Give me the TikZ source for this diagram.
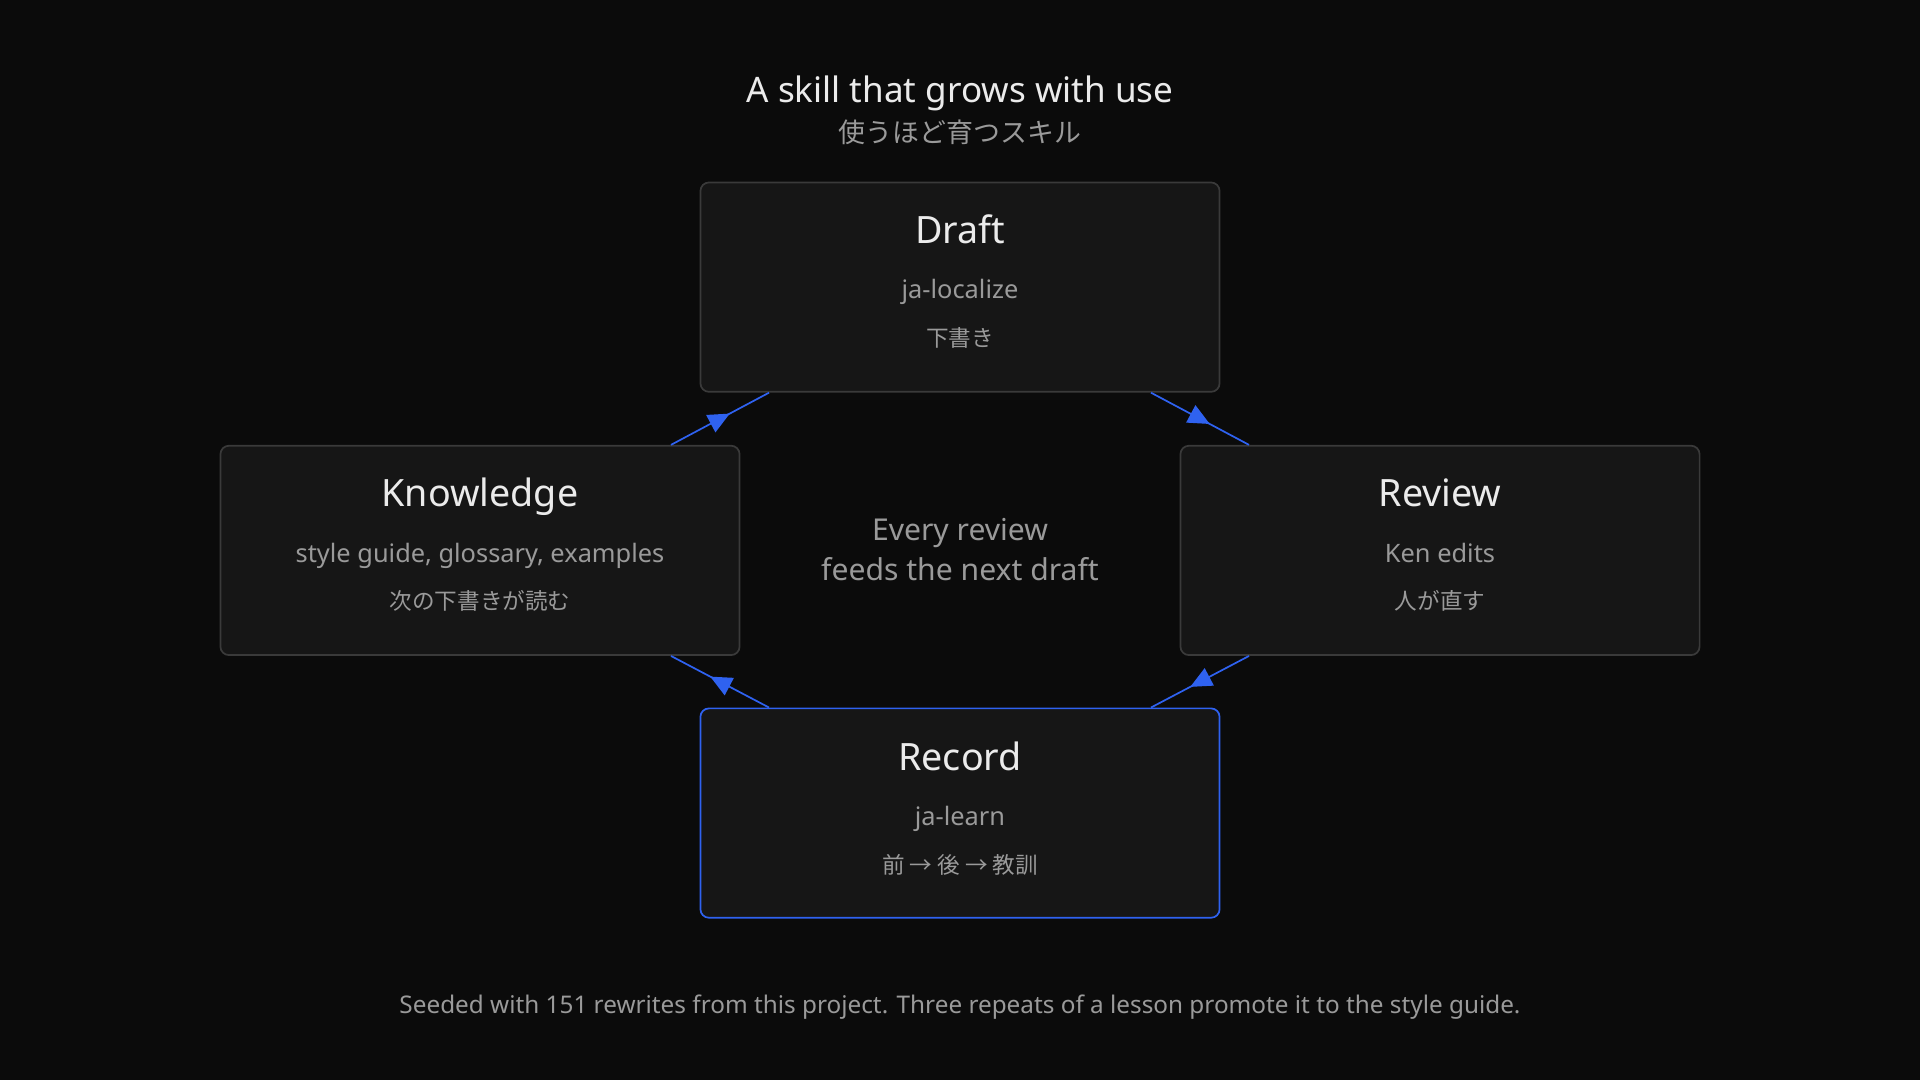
\documentclass[tikz,border=0pt]{standalone}
\usepackage{fontspec}
\setmainfont{Noto Sans}
\newfontfamily\cjk{Noto Sans CJK JP}
\usetikzlibrary{arrows.meta,decorations.markings}
\definecolor{bgc}{HTML}{0B0B0B}
\definecolor{boxc}{HTML}{161616}
\definecolor{edgec}{HTML}{3A3A3A}
\definecolor{bluec}{HTML}{2F62F0}
\definecolor{dimc}{HTML}{9A9A9A}
\begin{document}
\begin{tikzpicture}[x=0.02cm, y=-0.02cm,
    stage/.style={draw=edgec, fill=boxc, rounded corners=4pt, line width=0.8pt,
        minimum width=424*0.02cm, minimum height=171*0.02cm, inner sep=0pt},
    ttl/.style={anchor=base, text=white!92!black, font=\fontsize{17.5}{20}\selectfont},
    sub/.style={anchor=base, text=dimc, font=\fontsize{11.8}{14}\selectfont},
    jp/.style={anchor=base, text=dimc, font=\cjk\fontsize{10.5}{12}\selectfont},
    flow/.style={bluec, line width=0.8pt, postaction={decorate},
        decoration={markings, mark=at position 0.6 with {\arrow{Triangle[length=10pt,width=9pt]}}}}]
    % Canvas
    \fill[bgc] (0,0) rectangle (1568,882);
    \useasboundingbox (0,0) rectangle (1568,882);

    % Heading
    \node[ttl, font=\fontsize{16.3}{18}\selectfont] (head) at (784,84) {A skill that grows with use};
    \node[jp, font=\cjk\fontsize{12.5}{14}\selectfont] (headjp) at (784,116) {使うほど育つスキル};

    % Stages
    \node[stage] (draft) at (784,234.5) {};
    \node[stage] (know) at (392,449.5) {};
    \node[stage] (review) at (1176,449.5) {};
    \node[stage, draw=bluec] (record) at (784,664) {};

    \node[ttl] (draftT) at (784,199) {Draft};
    \node[sub] (draftS) at (784,244) {ja-localize};
    \node[jp] (draftJ) at (784,283) {下書き};

    \node[ttl] (knowT) at (392,414) {Knowledge};
    \node[sub] (knowS) at (392,459) {style guide, glossary, examples};
    \node[jp] (knowJ) at (392,498) {次の下書きが読む};

    \node[ttl] (reviewT) at (1176,414) {Review};
    \node[sub] (reviewS) at (1176,459) {Ken edits};
    \node[jp] (reviewJ) at (1176,498) {人が直す};

    \node[ttl] (recordT) at (784,629) {Record};
    \node[sub] (recordS) at (784,674) {ja-learn};
    \node[jp] (recordJ) at (784,713) {前 → 後 → 教訓};

    % Centre note
    \node[anchor=base, text=dimc, font=\fontsize{14}{17}\selectfont] (note1) at (784,441) {Every review};
    \node[anchor=base, text=dimc, font=\fontsize{14}{17}\selectfont] (note2) at (784,474) {feeds the next draft};

    % Loop
    \draw[flow] ([xshift=156*0.02cm]draft.south) -- ([xshift=-156*0.02cm]review.north);
    \draw[flow] ([xshift=-156*0.02cm]review.south) -- ([xshift=156*0.02cm]record.north);
    \draw[flow] ([xshift=-156*0.02cm]record.north) -- ([xshift=156*0.02cm]know.south);
    \draw[flow] ([xshift=156*0.02cm]know.north) -- ([xshift=-156*0.02cm]draft.south);

    % Footer
    \node[sub, font=\fontsize{11.3}{12}\selectfont] (foot) at (784,828) {Seeded with 151 rewrites from this project. Three repeats of a lesson promote it to the style guide.};
\end{tikzpicture}
\end{document}
